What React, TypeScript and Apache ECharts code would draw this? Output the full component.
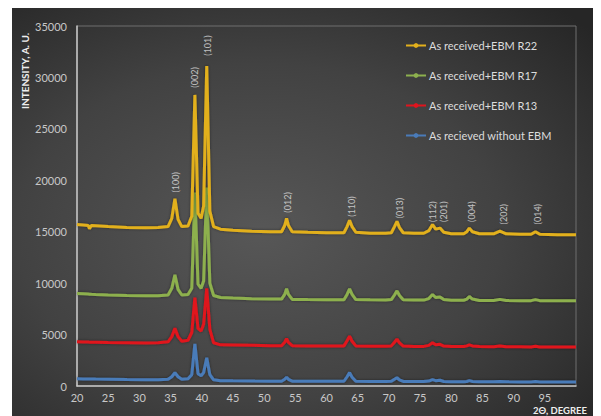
import React, { useEffect, useRef } from "react";
import * as echarts from "echarts";

// 2θ positions shared by all four diffractograms
const twoTheta = [
  20, 21, 21.8, 22, 22.3, 23, 25, 28, 31, 33, 34.6, 35.2, 35.7, 36.2, 36.8, 37.8,
  38.4, 38.9, 39.4, 39.9, 40.3, 40.8, 41.3, 41.9, 43, 45, 48, 51, 52.8, 53.3, 53.6,
  53.9, 54.5, 57, 60, 62.8, 63.3, 63.7, 64.1, 64.7, 67, 69.5, 70.4, 70.9, 71.3,
  71.7, 72.3, 74, 75.6, 76.4, 77, 77.5, 78.2, 78.8, 80, 82, 82.5, 82.9, 83.4, 84.5,
  86.8, 87.8, 88.8, 91, 92.8, 93.5, 94.2, 97, 100,
];

const r22 = [
  15700, 15650, 15600, 15300, 15600, 15580, 15500, 15420, 15380, 15400, 15500,
  16300, 18200, 16200, 15500, 15550, 16500, 28300, 16800, 16300, 17500, 31100,
  17000, 15500, 15250, 15150, 15050, 15000, 15000, 15600, 16300, 15600, 15000,
  14950, 14900, 14900, 15500, 16100, 15500, 14950, 14850, 14850, 14900, 15500,
  16000, 15400, 14900, 14850, 14850, 15100, 15700, 15250, 15350, 14950, 14800,
  14800, 15000, 15350, 15000, 14800, 14800, 15050, 14800, 14750, 14750, 15000,
  14750, 14700, 14700,
];

const r17 = [
  9000, 8980, 8950, 8930, 8920, 8900, 8850, 8800, 8780, 8780, 8850, 9500, 10800,
  9400, 8850, 8900, 9500, 18800, 9900, 9500, 10200, 19300, 10000, 8800, 8600,
  8550, 8480, 8450, 8450, 8900, 9450, 8900, 8420, 8400, 8380, 8380, 8900, 9450,
  8900, 8400, 8380, 8370, 8400, 8850, 9250, 8800, 8380, 8350, 8350, 8500, 8900,
  8600, 8650, 8400, 8340, 8340, 8450, 8700, 8450, 8320, 8320, 8420, 8320, 8300,
  8300, 8400, 8300, 8300, 8300,
];

const r13 = [
  4300, 4280, 4270, 4260, 4260, 4250, 4220, 4200, 4180, 4200, 4300, 4800, 5600,
  4800, 4350, 4450, 5200, 8600, 5600, 5350, 6000, 9500, 5500, 4200, 4000, 3980,
  3950, 3920, 3920, 4250, 4600, 4250, 3920, 3900, 3880, 3900, 4400, 4850, 4350,
  3900, 3870, 3870, 3900, 4250, 4550, 4200, 3880, 3850, 3850, 3950, 4200, 4000,
  4050, 3880, 3840, 3840, 3900, 4000, 3900, 3830, 3820, 3880, 3820, 3810, 3800,
  3860, 3800, 3800, 3800,
];

const noEbm = [
  700, 690, 680, 680, 680, 670, 650, 620, 600, 600, 650, 900, 1300, 900, 650, 700,
  1100, 4100, 1200, 1000, 1300, 2750, 1100, 600, 520, 500, 480, 470, 470, 650, 850,
  650, 470, 460, 450, 460, 900, 1300, 850, 460, 440, 440, 450, 650, 800, 600, 440,
  430, 430, 480, 620, 520, 560, 440, 420, 420, 440, 520, 440, 410, 410, 440, 410,
  400, 400, 430, 400, 400, 400,
];

// Miller indices written above the reflections
const peakNames = ["(100)", "(002)", "(101)", "(012)", "(110)", "(013)", "(112)", "(201)", "(004)", "(202)", "(014)"];
const peakX = [35.8, 38.9, 41.0, 53.8, 64.0, 71.7, 77.0, 78.7, 83.2, 88.3, 93.9];
const peakY = [19800, 30000, 33100, 17850, 17450, 17300, 16950, 16950, 16950, 16700, 16700];

const seriesNames = [
  "As received+EBM R22",
  "As received+EBM R17",
  "As received+EBM R13",
  "As recieved without EBM",
];
const seriesColors = ["#e2b01c", "#8db04e", "#e0141e", "#4a7bb9"];
const seriesValues = [r22, r17, r13, noEbm];

const FONT = "Lato";

export default function App() {
  const ref = useRef<HTMLDivElement>(null);

  useEffect(() => {
    if (!ref.current) return;
    const chart = echarts.init(ref.current, undefined, { renderer: "svg" });

    const lines = seriesNames
      .map((name, i) => ({
        name,
        type: "line" as const,
        data: twoTheta.map((x, k) => [x, seriesValues[i][k]]),
        showSymbol: false,
        symbol: "circle",
        symbolSize: 4,
        lineStyle: {
          color: seriesColors[i],
          width: 3,
          shadowColor: "rgba(0,0,0,0.45)",
          shadowBlur: 3,
        },
        itemStyle: { color: seriesColors[i] },
        z: 10 - i,
      }))
      .reverse();

    chart.setOption({
      animation: false,
      backgroundColor: {
        type: "radial",
        x: 0.42,
        y: 0.55,
        r: 0.75,
        colorStops: [
          { offset: 0, color: "#575757" },
          { offset: 0.55, color: "#424242" },
          { offset: 1, color: "#262626" },
        ],
      },
      textStyle: { fontFamily: FONT },
      grid: { left: 65, right: 25, top: 18, bottom: 30, show: true, borderColor: "#6f6f6f", borderWidth: 1 },
      legend: {
        data: seriesNames,
        orient: "vertical",
        left: 388,
        top: 27,
        itemWidth: 20,
        itemHeight: 6,
        itemGap: 19,
        textStyle: { color: "#dcdcdc", fontSize: 11, fontFamily: FONT, padding: [0, 0, 0, -2] },
      },
      xAxis: {
        type: "value",
        min: 20,
        max: 100,
        interval: 5,
        axisLine: { lineStyle: { color: "#c8c8c8", width: 1.5 } },
        axisTick: { show: false },
        splitLine: { show: false },
        axisLabel: {
          color: "#c8c8c8",
          fontSize: 11,
          margin: 6,
          formatter: (v: number) => (v > 95 ? "" : String(v)),
        },
      },
      yAxis: {
        type: "value",
        min: 0,
        max: 35000,
        interval: 5000,
        axisLine: { show: true, lineStyle: { color: "#c8c8c8", width: 1.5 } },
        axisTick: { show: false },
        splitLine: { show: false },
        axisLabel: { color: "#c8c8c8", fontSize: 11, margin: 10, formatter: (v: number) => String(v) },
      },
      graphic: [
        {
          type: "text",
          x: 13,
          y: 63,
          rotation: Math.PI / 2,
          style: {
            text: "INTENSITY, A. U.",
            fill: "#eeeeee",
            font: `bold 10px ${FONT}`,
            textAlign: "center",
            textVerticalAlign: "middle",
          },
        },
        {
          type: "text",
          x: 548,
          y: 407,
          style: {
            text: "2Θ, DEGREE",
            fill: "#eeeeee",
            font: `bold 9.5px ${FONT}`,
            textAlign: "center",
            textVerticalAlign: "bottom",
          },
        },
      ],
      series: [
        ...lines,
        {
          name: "hkl",
          type: "scatter",
          symbolSize: 0,
          silent: true,
          z: 20,
          data: peakNames.map((n, i) => ({ name: n, value: [peakX[i], peakY[i]] })),
          label: {
            show: true,
            position: "inside",
            rotate: 90,
            formatter: "{b}",
            color: "#e4e4e4",
            fontSize: 9,
            fontFamily: FONT,
          },
        },
      ],
    });

    return () => chart.dispose();
  }, []);

  return <div ref={ref} style={{ width: 589, height: 408, marginLeft: 4 }} />;
}
